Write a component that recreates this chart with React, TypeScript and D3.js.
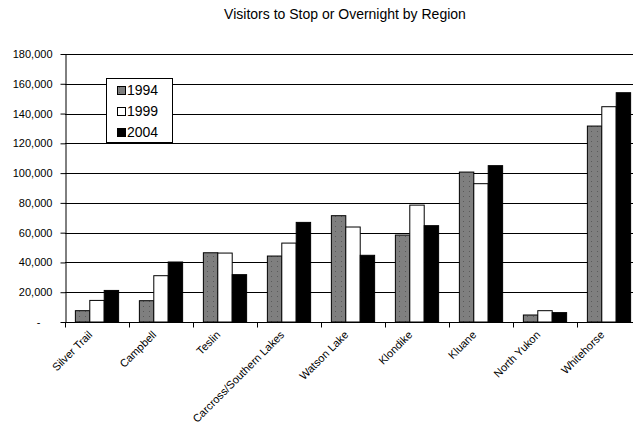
import React, { useRef, useEffect } from "react";
import * as d3 from "d3";

const categories = [
  "Silver Trail",
  "Campbell",
  "Teslin",
  "Carcross/Southern Lakes",
  "Watson Lake",
  "Klondike",
  "Kluane",
  "North Yukon",
  "Whitehorse",
];
const years = ["1994", "1999", "2004"];
const v1994 = [7600, 14300, 46500, 44300, 71400, 58400, 100700, 4700, 131600];
const v1999 = [14500, 31100, 46300, 53000, 63800, 78500, 92900, 7600, 144600];
const v2004 = [21200, 40300, 31800, 66900, 44800, 64700, 105000, 6300, 154000];
const yTicks = [0, 20000, 40000, 60000, 80000, 100000, 120000, 140000, 160000, 180000];

const App: React.FC = () => {
  const svgRef = useRef<SVGSVGElement | null>(null);

  useEffect(() => {
    const width = 633;
    const height = 428;
    const svg = d3.select(svgRef.current).attr("width", width).attr("height", height);
    svg.selectAll("*").remove();

    const font = "'Liberation Sans', Arial, sans-serif";
    const left = 65;
    const right = 641; // last band runs off the picture, like the original
    const top = 54;
    const bottom = 322;

    const series = [v1994, v1999, v2004];
    const fills = ["url(#dots)", "#ffffff", "#000000"];

    // dotted grey fill like the old excel pattern
    const defs = svg.append("defs");
    const pat = defs
      .append("pattern")
      .attr("id", "dots")
      .attr("patternUnits", "userSpaceOnUse")
      .attr("width", 6)
      .attr("height", 5);
    pat.append("rect").attr("width", 6).attr("height", 5).attr("fill", "#7f7f7f");
    pat.append("rect").attr("x", 2).attr("y", 1).attr("width", 1).attr("height", 1).attr("fill", "#5a5a5a");

    const x0 = d3.scaleBand<string>().domain(categories).range([left, right]).padding(0);
    const x1 = d3
      .scaleBand<string>()
      .domain(years)
      .range([0, x0.bandwidth()])
      .paddingInner(0)
      .paddingOuter(0.72);
    const y = d3.scaleLinear().domain([0, 180000]).range([bottom, top]);

    // title
    svg
      .append("text")
      .attr("x", 345)
      .attr("y", 19)
      .attr("text-anchor", "middle")
      .style("font-family", font)
      .style("font-size", "14px")
      .style("fill", "#000")
      .text("Visitors to Stop or Overnight by Region");

    // gridlines
    svg
      .append("g")
      .selectAll("line")
      .data(yTicks.filter((d) => d > 0))
      .enter()
      .append("line")
      .attr("x1", left)
      .attr("x2", right)
      .attr("y1", (d) => Math.round(y(d)) + 0.5)
      .attr("y2", (d) => Math.round(y(d)) + 0.5)
      .attr("stroke", "#000")
      .attr("stroke-width", 1);

    // bars
    const groups = svg
      .append("g")
      .selectAll("g")
      .data(categories)
      .enter()
      .append("g")
      .attr("transform", (d) => `translate(${x0(d)},0)`);

    groups
      .selectAll("rect")
      .data((_, i) => years.map((yr, s) => ({ yr, s, v: series[s][i] })))
      .enter()
      .append("rect")
      .attr("x", (d) => x1(d.yr)!)
      .attr("y", (d) => y(d.v))
      .attr("width", x1.bandwidth())
      .attr("height", (d) => y(0) - y(d.v))
      .attr("fill", (d) => fills[d.s])
      .attr("stroke", "#000")
      .attr("stroke-width", 1);

    // y axis
    const yAxis = svg
      .append("g")
      .attr("transform", `translate(${left + 0.5},0)`)
      .call(
        d3
          .axisLeft(y)
          .tickValues(yTicks)
          .tickSizeInner(5)
          .tickSizeOuter(0)
          .tickPadding(8)
          .tickFormat((d) => (d === 0 ? "-" : d3.format(",")(d as number)))
      );
    yAxis.select(".domain").attr("stroke", "#000");
    yAxis.selectAll(".tick line").attr("stroke", "#000");
    yAxis
      .selectAll("text")
      .style("font-family", font)
      .style("font-size", "11px")
      .style("fill", "#000")
      .attr("dx", (d) => (d === 0 ? -12 : 0));

    // x axis
    const xAxis = svg.append("g").attr("transform", `translate(0,${bottom + 0.5})`);
    xAxis
      .append("line")
      .attr("x1", left)
      .attr("x2", right)
      .attr("stroke", "#000");
    xAxis
      .selectAll(".tk")
      .data(categories)
      .enter()
      .append("line")
      .attr("x1", (d) => Math.round(x0(d)!) + 0.5)
      .attr("x2", (d) => Math.round(x0(d)!) + 0.5)
      .attr("y1", 0)
      .attr("y2", 5)
      .attr("stroke", "#000");
    xAxis
      .selectAll(".lbl")
      .data(categories)
      .enter()
      .append("text")
      .attr("transform", (d) => `translate(${x0(d)! + x0.bandwidth() / 2 - 4},${13}) rotate(-45)`)
      .attr("text-anchor", "end")
      .style("font-family", font)
      .style("font-size", "11px")
      .style("fill", "#000")
      .text((d) => d);

    // legend
    const lg = svg.append("g").attr("transform", "translate(106,78)");
    lg.append("rect")
      .attr("x", 0.5)
      .attr("y", 0.5)
      .attr("width", 66)
      .attr("height", 64)
      .attr("fill", "#fff")
      .attr("stroke", "#000");
    const items = lg
      .selectAll(".item")
      .data(years)
      .enter()
      .append("g")
      .attr("transform", (_, i) => `translate(11,${8 + i * 21})`);
    items
      .append("rect")
      .attr("x", 0.5)
      .attr("y", 0.5)
      .attr("width", 8)
      .attr("height", 8)
      .attr("fill", (_, i) => fills[i])
      .attr("stroke", "#000");
    items
      .append("text")
      .attr("x", 10)
      .attr("y", 9)
      .style("font-family", font)
      .style("font-size", "14px")
      .style("fill", "#000")
      .text((d) => d);
  }, []);

  return (
    <div style={{ position: "absolute", left: 0, top: 0 }}>
      <svg ref={svgRef} style={{ display: "block", background: "#fff" }}></svg>
    </div>
  );
};

export default App;
